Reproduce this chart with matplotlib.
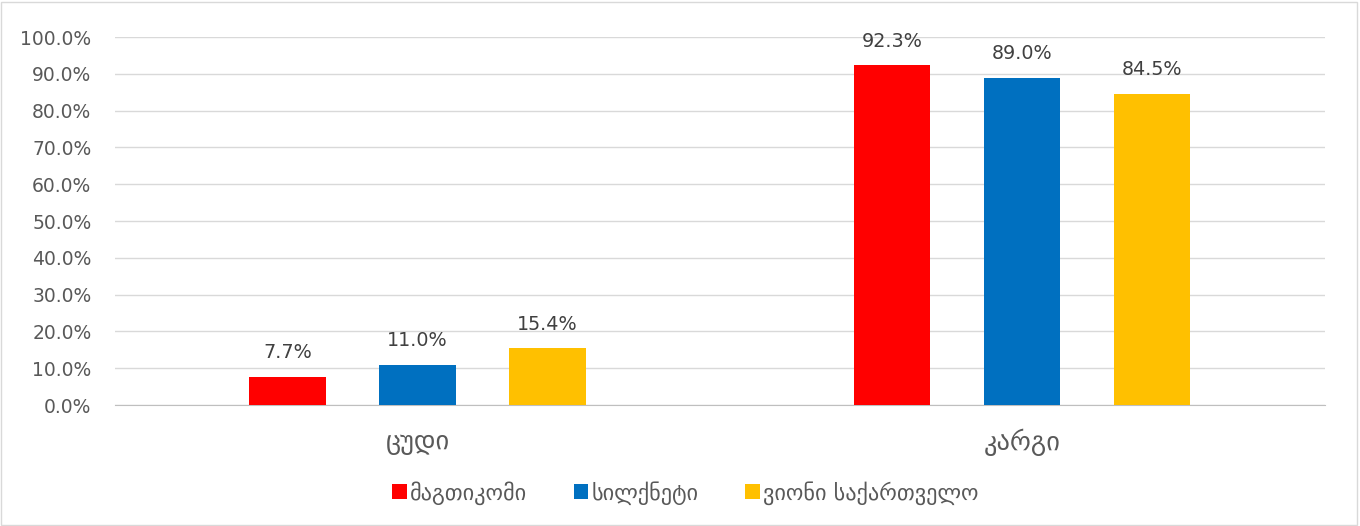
import matplotlib
matplotlib.use("Agg")
import matplotlib.pyplot as plt
import numpy as np
from matplotlib.patches import Rectangle

# --- data ---
categories = ["ცუდი", "კარგი"]
series_names = ["მაგთიკომი", "სილქნეტი", "ვიონი საქართველო"]
values = {
    "მაგთიკომი": [7.7, 92.3],
    "სილქნეტი": [11.0, 89.0],
    "ვიონი საქართველო": [15.4, 84.5],
}
colors = ["#FF0000", "#0070C0", "#FFC000"]
yticks = [0, 10, 20, 30, 40, 50, 60, 70, 80, 90, 100]

plt.rcParams['font.family'] = ['DejaVu Sans']
txt = "#595959"

fig = plt.figure(figsize=(13.6, 5.26), dpi=100)
ax = fig.add_axes([0.0846, 0.230, 0.8894, 0.6996])

x = np.arange(len(categories))
width = 0.126
offset = 0.215
for i, name in enumerate(series_names):
    pos = x + (i - 1) * offset
    bars = ax.bar(pos, values[name], width, color=colors[i], label=name, zorder=3)
    for b, v in zip(bars, values[name]):
        ax.text(b.get_x() + b.get_width() / 2, v + 4.0, f"{v:.1f}%",
                ha="center", va="bottom", fontsize=13.8, color="#404040")

ax.set_xlim(-0.5, 1.5)
ax.set_ylim(0, 100)
ax.set_yticks(yticks)
ax.set_yticklabels([f"{t:.1f}%" for t in yticks], fontsize=13.5, color=txt)
ax.set_xticks(x)
ax.set_xticklabels(categories, fontsize=19, color=txt)
ax.tick_params(axis="both", length=0)
ax.tick_params(axis="y", pad=17)
ax.tick_params(axis="x", pad=17)
ax.grid(axis="y", color="#D9D9D9", linewidth=1, zorder=0)
for s in ["top", "right", "left"]:
    ax.spines[s].set_visible(False)
ax.spines["bottom"].set_color("#BFBFBF")

handles, labels = ax.get_legend_handles_labels()
fig.legend(handles, labels, loc="center", bbox_to_anchor=(0.504, 0.063), ncol=3,
           frameon=False, fontsize=16, handlelength=0.65, handleheight=0.65,
           handletextpad=0.15, columnspacing=2.1, labelcolor=txt)

fig.patches.append(Rectangle((0.001, 0.002), 0.997, 0.995, transform=fig.transFigure,
                             fill=False, edgecolor="#D9D9D9", linewidth=1))

fig.savefig("out.png", dpi=100)
